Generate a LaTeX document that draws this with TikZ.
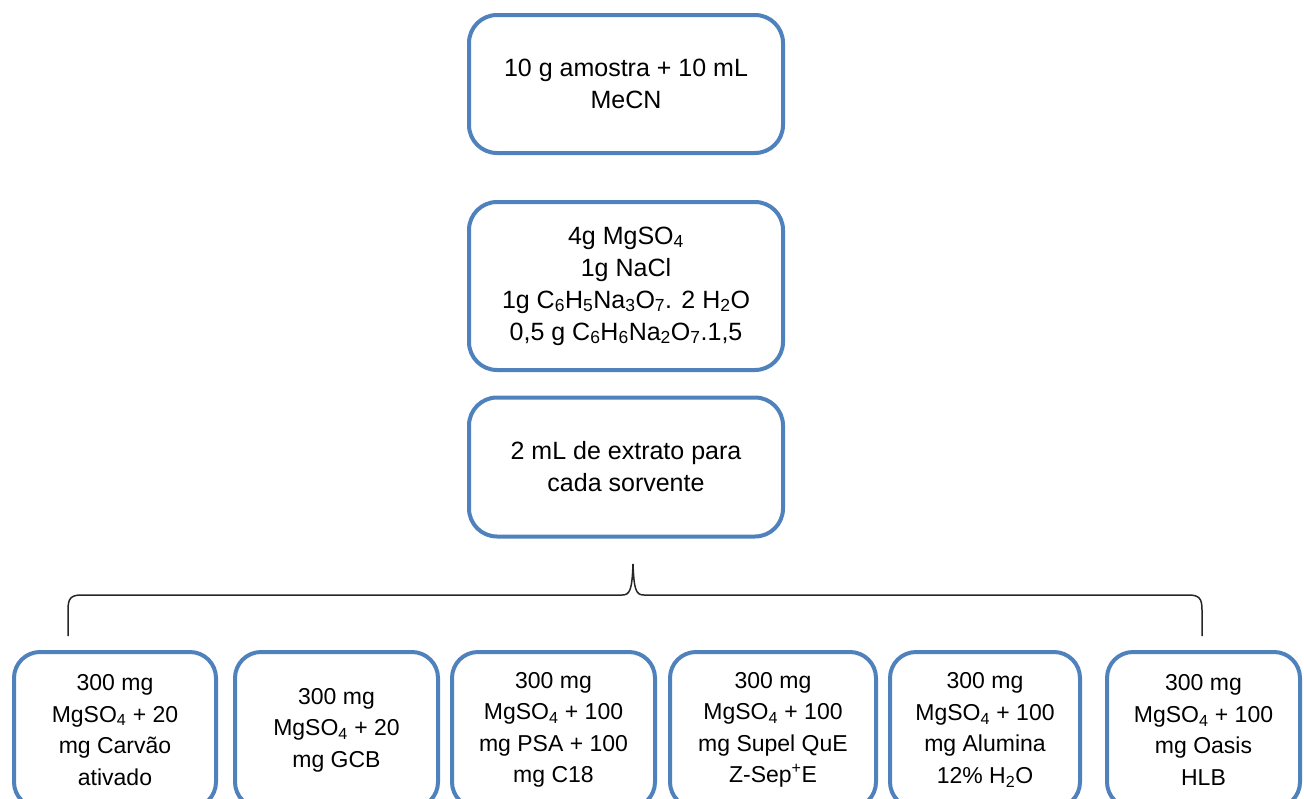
\documentclass[tikz,border=0pt]{standalone}
\usepackage{fontspec}
\setmainfont{Liberation Sans}
\usetikzlibrary{positioning, calc}
\definecolor{azul}{RGB}{79,129,189}
\tikzset{
    caixa/.style={draw=azul, line width=4pt, fill=white, align=center,
        inner sep=0pt, rounded corners=28pt,
        font=\fontsize{25}{32}\selectfont},
    caixinha/.style={caixa, rounded corners=26pt, minimum height=156pt,
        font=\fontsize{23}{31.5}\selectfont},
    chave/.style={line width=1.5pt, black!85}
}
\newcommand{\mgso}{MgSO\textsubscript{4}}

\begin{document}
\begin{tikzpicture}[x=1pt, y=-1pt]
    \useasboundingbox (0,0) rectangle (1304,798);
    \clip (0,0) rectangle (1304,798);
    % etapas de extracao
    \node[caixa, minimum width=314pt, minimum height=138pt] (amostra) at (626,84)
        {10 g amostra + 10 mL\\MeCN};
    \node[caixa, minimum width=314pt, minimum height=168pt] (sais) at (626,286)
        {4g \mgso\\1g NaCl\\1g C\textsubscript{6}H\textsubscript{5}Na\textsubscript{3}O\textsubscript{7}. 2 H\textsubscript{2}O\\0,5 g C\textsubscript{6}H\textsubscript{6}Na\textsubscript{2}O\textsubscript{7}.1,5};
    \node[caixa, minimum width=314pt, minimum height=139pt] (extrato) at (626,467)
        {2 mL de extrato para\\cada sorvente};
    % sorventes
    \node[caixinha, minimum width=202pt] (carvao) at (115,730)
        {300 mg\\\mgso{} + 20\\mg Carv\~ao\\ativado};
    \node[caixinha, minimum width=203pt] (gcb) at (336.5,730)
        {300 mg\\\mgso{} + 20\\mg GCB};
    \node[caixinha, minimum width=203pt] (psa) at (553.5,730)
        {300 mg\\\mgso{} + 100\\mg PSA + 100\\mg C18};
    \node[caixinha, minimum width=206pt] (zsep) at (773,730)
        {300 mg\\\mgso{} + 100\\mg Supel QuE\\Z-Sep\textsuperscript{+}E};
    \node[caixinha, minimum width=190pt] (alumina) at (985,730)
        {300 mg\\\mgso{} + 100\\mg Alumina\\12\% H\textsubscript{2}O};
    \node[caixinha, minimum width=193pt] (oasis) at (1203.5,730)
        {300 mg\\\mgso{} + 100\\mg Oasis\\HLB};
    % chave
    \coordinate (chave-esq) at (68,636);
    \coordinate (chave-meio) at (633,564);
    \coordinate (chave-dir) at (1202,636);
    \draw[chave] (chave-esq) -- ++(0,-26) .. controls (68,598) and (71,595) .. (82,595)
        -- (622,595) .. controls (630,595) and (632,590) .. (chave-meio)
        .. controls (634,590) and (636,595) .. (644,595)
        -- (1188,595) .. controls (1199,595) and (1202,598) .. (1202,610)
        -- (chave-dir);
\end{tikzpicture}
\end{document}
